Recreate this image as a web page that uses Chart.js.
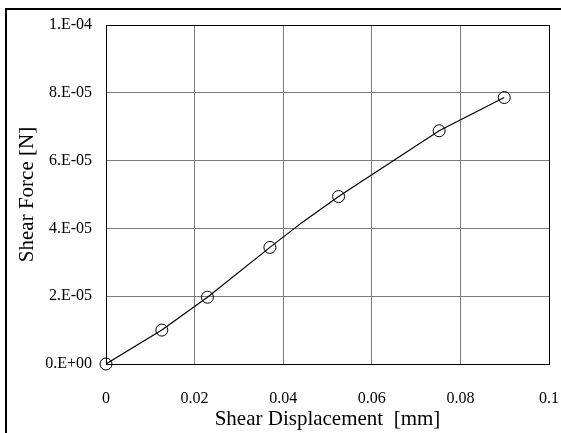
<!DOCTYPE html>
<html lang="en">
<head>
    <meta charset="UTF-8">
    <title>Shear Force vs Shear Displacement</title>
    <script src="https://cdn.jsdelivr.net/npm/chart.js"></script>
    <style>
        body { margin: 0; background: #fff; }
        canvas { display: block; }
    </style>
</head>
<body>
<canvas id="shearChart" width="561" height="433"></canvas>

<script>
    // measured points (circles)
    const markerX = [0, 0.0126, 0.0229, 0.0370, 0.0525, 0.0752, 0.0899];
    const markerY = [0, 1.0e-5, 1.97e-5, 3.44e-5, 4.94e-5, 6.88e-5, 7.86e-5];

    // the curve has one extra bend between markers
    const lineX = [0, 0.0126, 0.0229, 0.0370, 0.0442, 0.0525, 0.0752, 0.0899];
    const lineY = [0, 1.0e-5, 1.97e-5, 3.44e-5, 4.17e-5, 4.94e-5, 6.88e-5, 7.86e-5];

    const xTicks = [0, 0.02, 0.04, 0.06, 0.08, 0.1];
    const xTickLabels = ["0", "0.02", "0.04", "0.06", "0.08", "0.1"];
    const yTicks = [0, 2e-5, 4e-5, 6e-5, 8e-5, 1e-4];
    const yTickLabels = ["0.E+00", "2.E-05", "4.E-05", "6.E-05", "8.E-05", "1.E-04"];

    const serif = "'Liberation Serif', 'Times New Roman', serif";

    // outer frame of the figure
    const framePlugin = {
        id: 'frame',
        afterDraw(chart) {
            const ctx = chart.ctx;
            ctx.save();
            ctx.strokeStyle = '#000';
            ctx.lineWidth = 2;
            ctx.beginPath();
            ctx.moveTo(6, 433);
            ctx.lineTo(6, 9);
            ctx.lineTo(561, 9);
            ctx.stroke();
            ctx.restore();
        }
    };

    function edgeColor(ctx) {
        return ctx.index === 5 ? '#000' : '#7a7a7a';
    }

    new Chart(document.getElementById("shearChart"), {
        type: 'scatter',
        data: {
            datasets: [{
                data: lineX.map((x, i) => ({x: x, y: lineY[i]})),
                showLine: true,
                borderColor: '#000',
                borderWidth: 1.2,
                pointRadius: 0,
                tension: 0
            }, {
                data: markerX.map((x, i) => ({x: x, y: markerY[i]})),
                showLine: false,
                clip: false,
                pointStyle: 'circle',
                pointRadius: 6,
                borderColor: '#000',
                borderWidth: 1,
                backgroundColor: 'rgba(0,0,0,0)'
            }]
        },
        options: {
            responsive: false,
            animation: false,
            layout: { padding: { left: 0, top: 25, right: 12, bottom: 0 } },
            plugins: { legend: { display: false }, tooltip: { enabled: false } },
            scales: {
                x: {
                    type: 'linear',
                    min: 0, max: 0.1,
                    afterBuildTicks: s => { s.ticks = xTicks.map(v => ({value: v})); },
                    afterFit: s => { s.height = 69; s.paddingLeft = 0; s.paddingRight = 0; },
                    ticks: {
                        callback: (v, i) => xTickLabels[i],
                        color: '#000',
                        font: { family: serif, size: 16 },
                        padding: 25,
                        maxRotation: 0
                    },
                    grid: { color: edgeColor, lineWidth: 1, drawTicks: false },
                    border: { color: '#000', width: 1 },
                    title: {
                        display: true,
                        text: 'Shear Displacement  [mm]',
                        color: '#000',
                        font: { family: serif, size: 21 },
                        padding: { top: 1, bottom: 1 }
                    }
                },
                y: {
                    type: 'linear',
                    min: 0, max: 1e-4,
                    afterBuildTicks: s => { s.ticks = yTicks.map(v => ({value: v})); },
                    afterFit: s => { s.width = 106; s.paddingTop = 0; s.paddingBottom = 0; },
                    ticks: {
                        callback: (v, i) => yTickLabels[i],
                        color: '#000',
                        font: { family: serif, size: 16 },
                        padding: 14
                    },
                    grid: { color: edgeColor, lineWidth: 1, drawTicks: false },
                    border: { color: '#000', width: 1 },
                    title: {
                        display: true,
                        text: 'Shear Force [N]',
                        color: '#000',
                        font: { family: serif, size: 21 },
                        padding: { top: 15, bottom: 15 }
                    }
                }
            }
        },
        plugins: [framePlugin]
    });
</script>
</body>
</html>
